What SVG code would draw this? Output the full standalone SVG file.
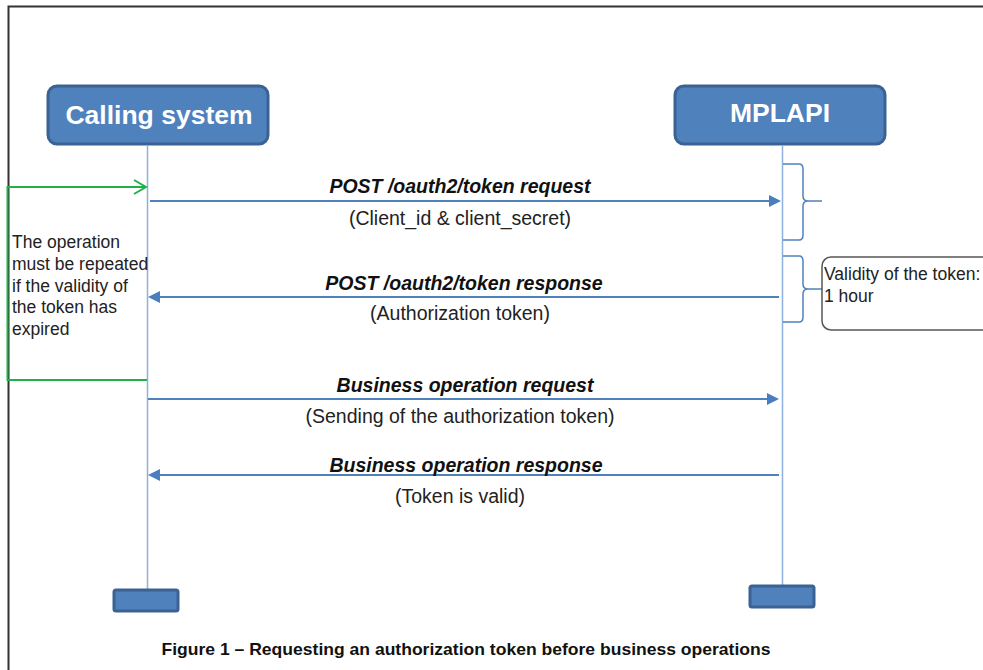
<svg xmlns="http://www.w3.org/2000/svg" width="983" height="670" viewBox="0 0 983 670">
<defs>
<marker id="ah" markerWidth="12" markerHeight="12" refX="10" refY="6" orient="auto" markerUnits="userSpaceOnUse">
<path d="M0,0 L12,6 L0,12 Z" fill="#4a7ebf"/>
</marker>
<marker id="gh" markerWidth="16" markerHeight="16" refX="14" refY="8" orient="auto" markerUnits="userSpaceOnUse">
<path d="M2,1 L14,8 L2,15" fill="none" stroke="#22b04a" stroke-width="2"/>
</marker>
<style>
.actor{fill:#4f81bd;stroke:#3a6394;stroke-width:3}
.actor-t{font-family:"Liberation Sans",Arial,sans-serif;font-weight:bold;fill:#fff;font-size:26.5px;text-anchor:middle}
.life{stroke:#8eb0dc;stroke-width:1.5;fill:none}
.msg{stroke:#4f81bd;stroke-width:2;fill:none}
.lbl{font-family:"Liberation Sans",Arial,sans-serif;font-weight:bold;font-style:italic;font-size:19.5px;fill:#111;text-anchor:middle}
.sub{font-family:"Liberation Sans",Arial,sans-serif;font-size:19.5px;fill:#222;text-anchor:middle}
.note{font-family:"Liberation Sans",Arial,sans-serif;font-size:17.5px;fill:#222}
.brace{stroke:#4f81bd;stroke-width:1.5;fill:none}
</style>
</defs>
<rect width="983" height="670" fill="#fff"/>
<g id="frame">
<path d="M8.5,670 L8.5,6.5 L983,6.5" fill="none" stroke="#333" stroke-width="2"/>
</g>
<g id="calling-system">
<rect class="actor" x="48" y="86" width="220" height="58" rx="9"/>
<text class="actor-t" x="159" y="124">Calling system</text>
<line class="life" x1="147.5" y1="145" x2="147.5" y2="590"/>
<rect class="actor" x="114" y="590" width="64" height="21" rx="2"/>
</g>
<g id="mplapi">
<rect class="actor" x="675" y="86" width="210" height="58" rx="9"/>
<text class="actor-t" x="780" y="122">MPLAPI</text>
<line class="life" x1="782.5" y1="145" x2="782.5" y2="586"/>
<rect class="actor" x="750" y="586" width="64" height="21" rx="2"/>
</g>
<g id="connectors">
<line class="msg" x1="150" y1="201" x2="779" y2="201" marker-end="url(#ah)"/>
<line class="msg" x1="779" y1="297" x2="150" y2="297" marker-end="url(#ah)"/>
<line class="msg" x1="148" y1="399" x2="777" y2="399" marker-end="url(#ah)"/>
<line class="msg" x1="779" y1="475" x2="150" y2="475" marker-end="url(#ah)"/>
<path d="M147,380 L7.5,380 L7.5,187 L146,187" fill="none" stroke="#22b04a" stroke-width="2" marker-end="url(#gh)"/>
</g>
<g id="labels">
<text class="lbl" x="460" y="193">POST /oauth2/token request</text>
<text class="sub" x="460" y="225">(Client_id &amp; client_secret)</text>
<text class="lbl" x="464" y="290">POST /oauth2/token response</text>
<text class="sub" x="460" y="320">(Authorization token)</text>
<text class="lbl" x="465" y="392">Business operation request</text>
<text class="sub" x="460" y="423">(Sending of the authorization token)</text>
<text class="lbl" x="466" y="472">Business operation response</text>
<text class="sub" x="460" y="503">(Token is valid)</text>
</g>
<g id="repeat-note">
<text class="note" x="12" y="248">The operation</text>
<text class="note" x="12" y="270">must be repeated</text>
<text class="note" x="12" y="292">if the validity of</text>
<text class="note" x="12" y="313">the token has</text>
<text class="note" x="12" y="335">expired</text>
</g>
<g id="braces">
<path class="brace" d="M783,164 L799,164 Q803,164 803,169 L803,196 Q803,201 808,201 L822,201 M808,201 Q803,201 803,206 L803,235 Q803,240 799,240 L783,240"/>
<path class="brace" d="M783,256 L799,256 Q803,256 803,261 L803,284 Q803,289 808,289 L822,289 M808,289 Q803,289 803,294 L803,317 Q803,322 799,322 L783,322"/>
</g>
<g id="validity-note">
<rect x="822" y="257" width="180" height="73" rx="9" fill="#fff" stroke="#555" stroke-width="1.5"/>
<text class="note" x="824" y="280">Validity of the token:</text>
<text class="note" x="824" y="302">1 hour</text>
</g>
<g id="caption">
<text x="466" y="655" font-family="'Liberation Sans',Arial,sans-serif" font-weight="bold" font-size="16.5" fill="#111" text-anchor="middle" textLength="609" lengthAdjust="spacingAndGlyphs">Figure 1 – Requesting an authorization token before business operations</text>
</g>
</svg>
